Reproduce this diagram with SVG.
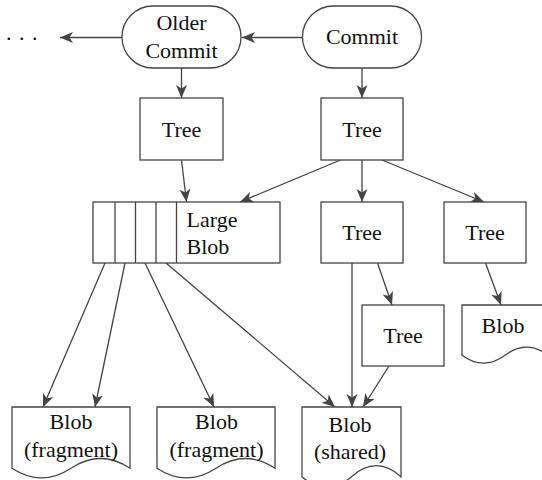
<svg xmlns="http://www.w3.org/2000/svg" width="542" height="480" viewBox="0 0 542 480">
<style>
.s{fill:#fff;stroke:#444;stroke-width:1.3}
.t{font-family:'Liberation Serif','Times New Roman',serif;font-size:22px;fill:#111;text-anchor:middle}
.l{text-anchor:start}
.c{fill:none;stroke:#444;stroke-width:1.3}
</style>
<defs>
<marker id="a" markerUnits="userSpaceOnUse" markerWidth="14" markerHeight="12" refX="13" refY="5.5" orient="auto">
<path d="M0,0 L13,5.5 L0,11 L3.5,5.5 Z" fill="#444"/>
</marker>
</defs>
<g id="connectors">
<line class="c" x1="303" y1="37.5" x2="242" y2="37.5" marker-end="url(#a)"/>
<line class="c" x1="122" y1="37.5" x2="60" y2="37.5" marker-end="url(#a)"/>
<line class="c" x1="181.5" y1="68" x2="181.5" y2="98" marker-end="url(#a)"/>
<line class="c" x1="362" y1="68" x2="362" y2="98" marker-end="url(#a)"/>
<line class="c" x1="181.5" y1="160" x2="186.5" y2="202" marker-end="url(#a)"/>
<line class="c" x1="340.5" y1="160" x2="240" y2="202" marker-end="url(#a)"/>
<line class="c" x1="362" y1="160" x2="362" y2="202" marker-end="url(#a)"/>
<line class="c" x1="382" y1="160" x2="484" y2="202" marker-end="url(#a)"/>
<line class="c" x1="377.5" y1="263" x2="392" y2="305" marker-end="url(#a)"/>
<line class="c" x1="485.5" y1="263" x2="501" y2="305" marker-end="url(#a)"/>
<line class="c" x1="352" y1="263" x2="352" y2="407" marker-end="url(#a)"/>
<line class="c" x1="389" y1="366" x2="363" y2="407" marker-end="url(#a)"/>
<line class="c" x1="105" y1="263" x2="43" y2="407" marker-end="url(#a)"/>
<line class="c" x1="125" y1="263" x2="95" y2="407" marker-end="url(#a)"/>
<line class="c" x1="145" y1="263" x2="214" y2="407" marker-end="url(#a)"/>
<line class="c" x1="166" y1="263" x2="335" y2="407" marker-end="url(#a)"/>
</g>
<g id="ellipsis"><text class="t l" x="6" y="40" word-spacing="2">. . .</text></g>
<g id="older-commit">
<rect class="s" x="122" y="6" width="119" height="62" rx="31"/>
<text class="t" x="181.5" y="30">Older</text>
<text class="t" x="181.5" y="57.5">Commit</text>
</g>
<g id="commit">
<rect class="s" x="302.5" y="6" width="119" height="62" rx="31"/>
<text class="t" x="362" y="44">Commit</text>
</g>
<g id="tree1">
<rect class="s" x="140" y="98" width="83" height="62"/>
<text class="t" x="181.5" y="136.5">Tree</text>
</g>
<g id="tree2">
<rect class="s" x="321" y="98" width="82" height="62"/>
<text class="t" x="362" y="136.5">Tree</text>
</g>
<g id="large-blob">
<rect class="s" x="93" y="202" width="187" height="61"/>
<line class="c" x1="115" y1="202" x2="115" y2="263"/>
<line class="c" x1="135.5" y1="202" x2="135.5" y2="263"/>
<line class="c" x1="156" y1="202" x2="156" y2="263"/>
<line class="c" x1="176.5" y1="202" x2="176.5" y2="263"/>
<text class="t l" x="186.5" y="226.5">Large</text>
<text class="t l" x="186.5" y="253.5">Blob</text>
</g>
<g id="tree3">
<rect class="s" x="321" y="202" width="82" height="61"/>
<text class="t" x="362" y="240">Tree</text>
</g>
<g id="tree4">
<rect class="s" x="444" y="202" width="82" height="61"/>
<text class="t" x="485" y="240">Tree</text>
</g>
<g id="tree5">
<rect class="s" x="362" y="305" width="82" height="61"/>
<text class="t" x="403" y="343">Tree</text>
</g>
<g id="blob-right">
<path class="s" d="M462,305 H548 V355.2 Q526.5,339.2 505,355.2 Q483.5,371.1 462,355.2 Z"/>
<text class="t" x="503" y="332.5">Blob</text>
</g>
<g id="blob-fragment1">
<path class="s" d="M12,407 H130 V468.2 Q100.5,448.8 71,468.2 Q41.5,487.6 12,468.2 Z"/>
<text class="t" x="71" y="429">Blob</text>
<text class="t" x="71" y="456.5">(fragment)</text>
</g>
<g id="blob-fragment2">
<path class="s" d="M157,407 H275 V468.2 Q245.5,448.8 216,468.2 Q186.5,487.6 157,468.2 Z"/>
<text class="t" x="216.5" y="429">Blob</text>
<text class="t" x="216.5" y="456.5">(fragment)</text>
</g>
<g id="blob-shared">
<path class="s" d="M302,407 H401 V476.7 Q376.25,454.6 351.5,476.7 Q326.75,498.8 302,476.7 Z"/>
<text class="t" x="350" y="431.5">Blob</text>
<text class="t" x="350" y="458.5">(shared)</text>
</g>
</svg>
